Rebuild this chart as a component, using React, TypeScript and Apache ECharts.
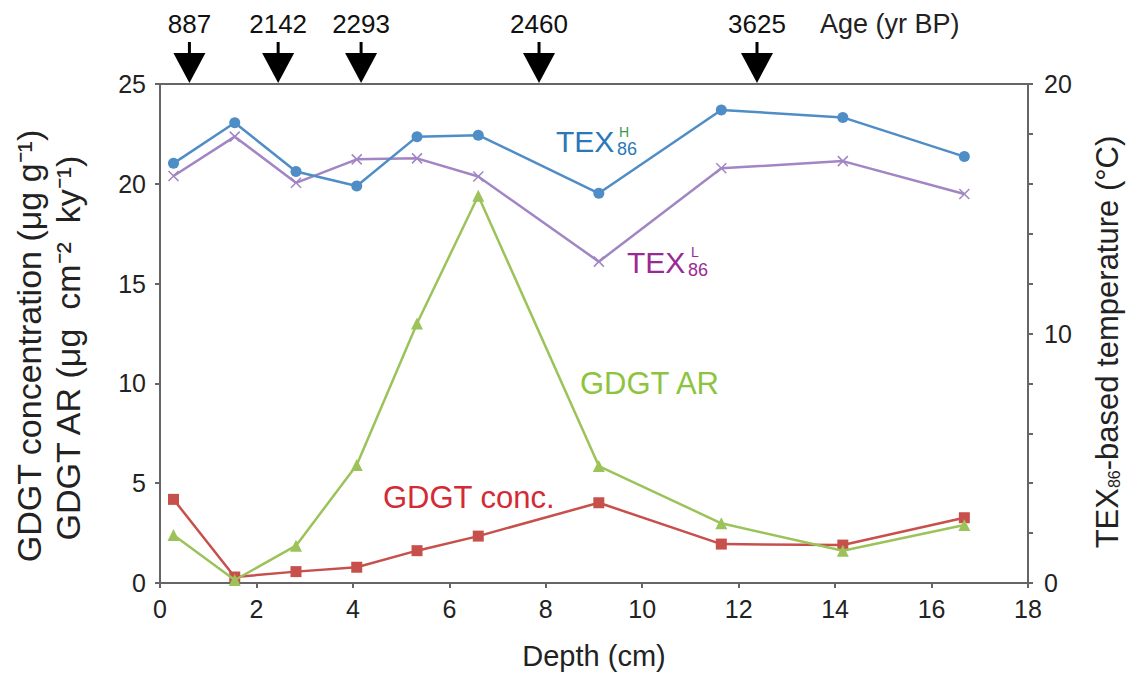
import React, { useEffect, useRef } from "react";
import * as echarts from "echarts";

const depths = [0.28, 1.55, 2.82, 4.08, 5.33, 6.6, 9.1, 11.64, 14.16, 16.68];
const gdgtConc = [4.19, 0.3, 0.57, 0.79, 1.62, 2.35, 4.02, 1.95, 1.9, 3.27];
const gdgtAR = [2.4, 0.15, 1.87, 5.91, 13.0, 19.4, 5.86, 2.99, 1.62, 2.91];
const texH = [16.82, 18.45, 16.49, 15.91, 17.89, 17.95, 15.62, 18.96, 18.66, 17.09];
const texL = [16.31, 17.89, 16.04, 16.98, 17.02, 16.29, 12.88, 16.62, 16.91, 15.59];
const ageDepths = [0.61, 2.45, 4.17, 7.86, 12.38];
const ageLabels = ["887", "2142", "2293", "2460", "3625"];

const FONT = "Liberation Sans, Arial, Helvetica, sans-serif";
const C_RED = "#c8504c";
const C_GREEN = "#9cc35a";
const C_PURPLE = "#a185c4";
const C_BLUE = "#4f8dc6";
const AXIS = "#666666";

const pairs = (ys: number[]) => depths.map((d, i) => [d, ys[i]]);

export default function App() {
  const ref = useRef<HTMLDivElement>(null);
  useEffect(() => {
    if (!ref.current) return;
    const chart = echarts.init(ref.current, undefined, { renderer: "svg" });
    const option: any = {
      animation: false,
      backgroundColor: "#ffffff",
      textStyle: { fontFamily: FONT },
      grid: {
        left: 160,
        right: 106,
        top: 84,
        bottom: 101,
        show: true,
        borderColor: AXIS,
        borderWidth: 2,
        backgroundColor: "transparent",
      },
      xAxis: {
        type: "value",
        min: 0,
        max: 18,
        interval: 2,
        axisLine: { show: true, lineStyle: { color: AXIS, width: 2 } },
        axisTick: { show: true, inside: false, length: 5, lineStyle: { color: AXIS, width: 2 } },
        axisLabel: { fontSize: 25, color: "#222", margin: 13, fontFamily: FONT },
        splitLine: { show: false },
        name: "Depth (cm)",
        nameLocation: "middle",
        nameGap: 58,
        nameTextStyle: { fontSize: 29, color: "#222", fontFamily: FONT },
      },
      yAxis: [
        {
          type: "value",
          min: 0,
          max: 25,
          interval: 5,
          position: "left",
          axisLine: { show: true, lineStyle: { color: AXIS, width: 2 } },
          axisTick: { show: true, inside: false, length: 5, lineStyle: { color: AXIS, width: 2 } },
          axisLabel: { fontSize: 25, color: "#222", margin: 14, fontFamily: FONT },
          splitLine: { show: false },
        },
        {
          type: "value",
          min: 0,
          max: 20,
          interval: 2,
          position: "right",
          axisLine: { show: true, lineStyle: { color: AXIS, width: 2 } },
          axisTick: { show: true, inside: false, length: 5, lineStyle: { color: AXIS, width: 2 } },
          axisLabel: {
            fontSize: 25,
            color: "#222",
            margin: 16,
            fontFamily: FONT,
            formatter: (v: number) => (v % 10 === 0 ? String(v) : ""),
          },
          splitLine: { show: false },
        },
      ],
      graphic: [
        {
          type: "text",
          x: 29,
          y: 346,
          rotation: Math.PI / 2,
          style: {
            text: "GDGT concentration (μg g⁻¹)",
            font: `34px ${FONT}`,
            fill: "#222",
            align: "center",
            verticalAlign: "middle",
          },
        },
        {
          type: "text",
          x: 68,
          y: 348,
          rotation: Math.PI / 2,
          style: {
            text: "GDGT AR (μg  cm⁻²  ky⁻¹)",
            font: `34px ${FONT}`,
            fill: "#222",
            align: "center",
            verticalAlign: "middle",
          },
        },
        {
          type: "text",
          x: 1107,
          y: 342,
          rotation: Math.PI / 2,
          style: {
            text: "TEX{s|86}-based temperature (°C)",
            font: `31px ${FONT}`,
            fill: "#222",
            align: "center",
            verticalAlign: "middle",
            rich: {
              s: { fontSize: 16, fontFamily: FONT, fill: "#222", verticalAlign: "bottom", padding: [12, 0, 0, 0] },
            },
          },
        },
        {
          type: "text",
          x: 820,
          y: 24,
          style: {
            text: "Age (yr BP)",
            font: `27px ${FONT}`,
            fill: "#222",
            align: "left",
            verticalAlign: "middle",
          },
        },
        {
          type: "group",
          x: 556,
          y: 141,
          children: [
            { type: "text", x: 0, y: 0, style: { text: "TEX", font: `30px ${FONT}`, fill: "#2a78b8", verticalAlign: "middle" } },
            { type: "text", x: 63, y: -9, style: { text: "H", font: `14px ${FONT}`, fill: "#3a9a4a", verticalAlign: "middle" } },
            { type: "text", x: 61, y: 8, style: { text: "86", font: `18px ${FONT}`, fill: "#2a78b8", verticalAlign: "middle" } },
          ],
        },
        {
          type: "group",
          x: 627,
          y: 262,
          children: [
            { type: "text", x: 0, y: 0, style: { text: "TEX", font: `30px ${FONT}`, fill: "#9a2a92", verticalAlign: "middle" } },
            { type: "text", x: 64, y: -10, style: { text: "L", font: `14px ${FONT}`, fill: "#9a2a92", verticalAlign: "middle" } },
            { type: "text", x: 61, y: 8, style: { text: "86", font: `18px ${FONT}`, fill: "#9a2a92", verticalAlign: "middle" } },
          ],
        },
        {
          type: "text",
          x: 580,
          y: 383,
          style: { text: "GDGT AR", font: `31px ${FONT}`, fill: "#8cc440", verticalAlign: "middle" },
        },
        {
          type: "text",
          x: 383,
          y: 497,
          style: { text: "GDGT conc.", font: `31px ${FONT}`, fill: "#d42a36", verticalAlign: "middle" },
        },
      ],
      series: [
        {
          name: "GDGT conc.",
          type: "line",
          yAxisIndex: 0,
          data: pairs(gdgtConc),
          symbol: "rect",
          symbolSize: 11,
          lineStyle: { color: C_RED, width: 2.5 },
          itemStyle: { color: C_RED },
          z: 3,
        },
        {
          name: "GDGT AR",
          type: "line",
          yAxisIndex: 0,
          data: pairs(gdgtAR),
          symbol: "triangle",
          symbolSize: 12,
          lineStyle: { color: C_GREEN, width: 2.5 },
          itemStyle: { color: C_GREEN },
          z: 4,
        },
        {
          name: "TEX86L",
          type: "line",
          yAxisIndex: 1,
          data: pairs(texL),
          symbol: "path://M0,0L10,10M10,0L0,10",
          symbolSize: 10,
          lineStyle: { color: C_PURPLE, width: 2.5 },
          itemStyle: { color: "none", borderColor: C_PURPLE, borderWidth: 1.5 },
          z: 3,
        },
        {
          name: "TEX86H",
          type: "line",
          yAxisIndex: 1,
          data: pairs(texH),
          symbol: "circle",
          symbolSize: 11,
          lineStyle: { color: C_BLUE, width: 2.5 },
          itemStyle: { color: C_BLUE },
          z: 4,
        },
        {
          name: "Age",
          type: "custom",
          yAxisIndex: 0,
          clip: false,
          silent: true,
          data: ageDepths.map((d, i) => [d, 25, ageLabels[i]]),
          renderItem: (params: any, api: any) => {
            const p = api.coord([api.value(0), api.value(1)]);
            const x = p[0];
            const y = p[1];
            return {
              type: "group",
              children: [
                {
                  type: "line",
                  shape: { x1: x, y1: y - 42, x2: x, y2: y - 28 },
                  style: { stroke: "#000", lineWidth: 3 },
                },
                {
                  type: "polygon",
                  shape: { points: [[x - 16, y - 31], [x + 16, y - 31], [x, y - 1]] },
                  style: { fill: "#000" },
                },
                {
                  type: "text",
                  x: x,
                  y: y - 60,
                  style: {
                    text: String(ageLabels[params.dataIndex]),
                    font: `26px ${FONT}`,
                    fill: "#111",
                    align: "center",
                    verticalAlign: "middle",
                  },
                },
              ],
            };
          },
          z: 10,
        },
      ],
    };
    chart.setOption(option);
    return () => chart.dispose();
  }, []);
  return (
    <div
      ref={ref}
      style={{ position: "fixed", left: 0, top: 0, width: 1134, height: 684, background: "#fff" }}
    />
  );
}
